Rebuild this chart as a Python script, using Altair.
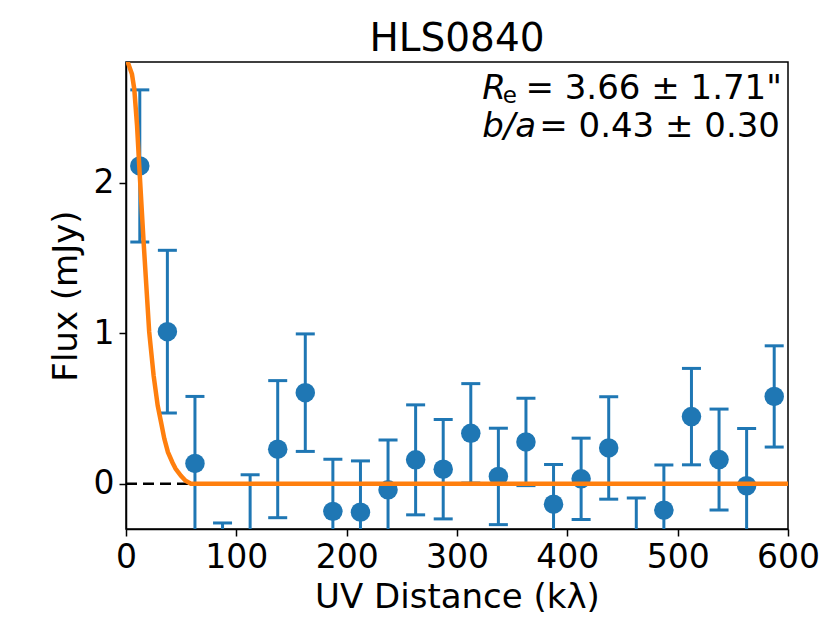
import altair as alt
import pandas as pd

# ---- data ----
uv_bins = [12.5, 37.5, 62.5, 87.5, 112.5, 137.5, 162.5, 187.5, 212.5, 237.5,
           262.5, 287.5, 312.5, 337.5, 362.5, 387.5, 412.5, 437.5, 462.5, 487.5,
           512.5, 537.5, 562.5, 587.5]
flux = [2.11, 1.01, 0.135, -0.72, -0.40, 0.23, 0.605, -0.183, -0.188, -0.04,
        0.159, 0.097, 0.335, 0.049, 0.278, -0.135, 0.033, 0.238, -0.43, -0.175,
        0.446, 0.161, -0.013, 0.58]
flux_err = [0.505, 0.54, 0.445, 0.46, 0.46, 0.455, 0.39, 0.346, 0.34, 0.33,
            0.365, 0.33, 0.33, 0.32, 0.29, 0.263, 0.27, 0.34, 0.335, 0.30,
            0.32, 0.335, 0.38, 0.336]

model_uv = [0, 1.5, 5.4, 7.5, 10, 12, 16, 21, 25, 28.7, 32, 34.7, 38, 42.2, 45,
            49.8, 54, 58.8, 600]
model_flux = [2.84, 2.80, 2.72, 2.62, 2.38, 2.11, 1.60, 1.01, 0.72, 0.52, 0.40,
              0.30, 0.21, 0.14, 0.10, 0.053, 0.02, 0.0, 0.0]

x_ticks = [0, 100, 200, 300, 400, 500, 600]
y_ticks = [0, 1, 2]

ann_text = ["R", "e", "= 3.66 \u00b1 1.71\"", "b/a", "= 0.43 \u00b1 0.30"]
ann_kind = ["italic", "sub", "normal", "italic", "normal"]
ann_x = [322.8, 341.5, 362, 322.8, 374.5]
ann_y = [2.554, 2.53, 2.554, 2.300, 2.300]

BLUE = "#1f77b4"
ORANGE = "#ff7f0e"
FONT = "DejaVu Sans"

df = pd.DataFrame({"uv": uv_bins, "flux": flux, "err": flux_err})
df["lo"] = df["flux"] - df["err"]
df["hi"] = df["flux"] + df["err"]
model = pd.DataFrame({"uv": model_uv, "flux": model_flux})
zero = pd.DataFrame({"uv": [0], "uv2": [600], "flux": [0]})
ann = pd.DataFrame({"uv": ann_x, "flux": ann_y, "text": ann_text, "kind": ann_kind})

xscale = alt.Scale(domain=[0, 600], nice=False, zero=False)
yscale = alt.Scale(domain=[-0.3, 2.8], nice=False, zero=False)
axis_style = dict(
    grid=False, format="d",
    domainColor="black", domainWidth=1.5, tickColor="black", tickWidth=1.5, tickSize=7,
    labelFont=FONT, labelFontSize=33, labelColor="black", labelPadding=5,
    labelFlush=False, labelOverlap=False,
    titleFont=FONT, titleFontSize=34, titleFontWeight="normal", titleColor="black",
)
xaxis = alt.Axis(values=x_ticks, title="UV Distance (k\u03bb)", titlePadding=6, **axis_style)
yaxis = alt.Axis(values=y_ticks, title="Flux (mJy)", titlePadding=10, **axis_style)


def X(f):
    return alt.X(f, type="quantitative", scale=xscale, axis=xaxis, title="UV Distance (k\u03bb)")


def Y(f):
    return alt.Y(f, type="quantitative", scale=yscale, axis=yaxis, title="Flux (mJy)")


zero_line = alt.Chart(zero).mark_rule(
    color="black", strokeWidth=2.5, strokeDash=[11, 6], clip=True
).encode(x=X("uv"), x2="uv2", y=Y("flux"))

err_rule = alt.Chart(df).mark_rule(color=BLUE, strokeWidth=3, clip=True).encode(
    x=X("uv"), y=Y("lo"), y2="hi"
)
cap_lo = alt.Chart(df).mark_tick(
    color=BLUE, orient="horizontal", size=19, thickness=3, opacity=1, clip=True
).encode(x=X("uv"), y=Y("lo"))
cap_hi = alt.Chart(df).mark_tick(
    color=BLUE, orient="horizontal", size=19, thickness=3, opacity=1, clip=True
).encode(x=X("uv"), y=Y("hi"))
points = alt.Chart(df).mark_circle(color=BLUE, size=380, opacity=1, clip=True).encode(
    x=X("uv"), y=Y("flux")
)
model_line = alt.Chart(model).mark_line(color=ORANGE, strokeWidth=4.5, clip=True).encode(
    x=X("uv"), y=Y("flux")
)

ann_italic = alt.Chart(ann).transform_filter(alt.datum.kind == "italic").mark_text(
    font=FONT, fontSize=34, fontStyle="italic", align="left", baseline="alphabetic", color="black"
).encode(x=X("uv"), y=Y("flux"), text="text:N")
ann_normal = alt.Chart(ann).transform_filter(alt.datum.kind == "normal").mark_text(
    font=FONT, fontSize=34, align="left", baseline="alphabetic", color="black"
).encode(x=X("uv"), y=Y("flux"), text="text:N")
ann_sub = alt.Chart(ann).transform_filter(alt.datum.kind == "sub").mark_text(
    font=FONT, fontSize=23, align="left", baseline="alphabetic", color="black"
).encode(x=X("uv"), y=Y("flux"), text="text:N")

chart = alt.layer(
    zero_line, err_rule, cap_lo, cap_hi, points, model_line, ann_italic, ann_normal, ann_sub
).properties(
    width=662,
    height=467,
    title=alt.TitleParams("HLS0840", font=FONT, fontSize=39, fontWeight="normal",
                          color="black", anchor="middle", offset=3),
    autosize=alt.AutoSizeParams(type="none"),
    padding={"left": 118, "top": 54, "right": 34, "bottom": 86},
    background="white",
).configure_view(
    stroke="black", strokeWidth=1.5
)

chart.save("out.html", embed_options={"renderer": "svg", "actions": False})
